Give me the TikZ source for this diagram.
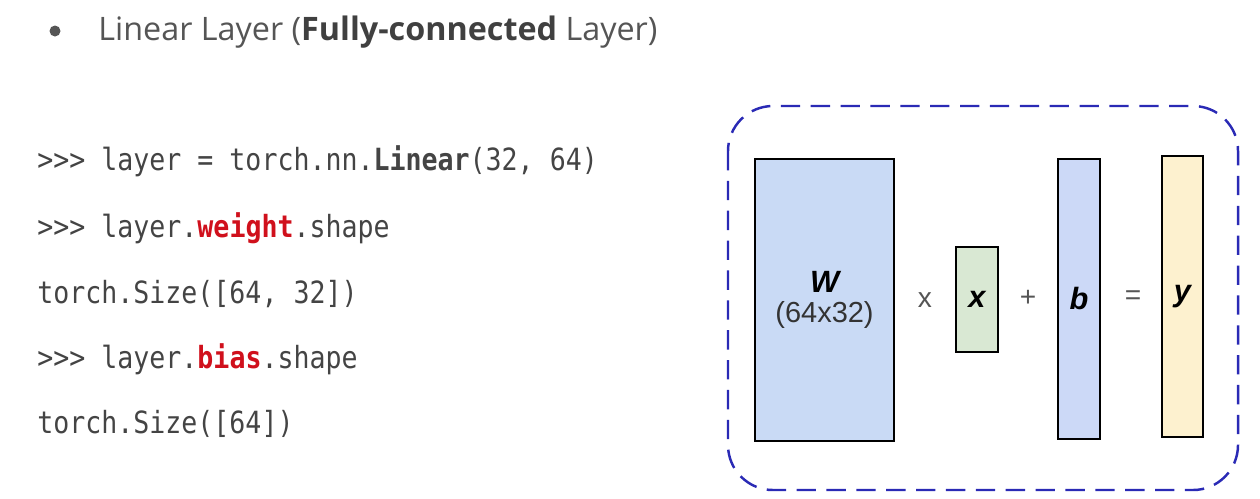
\documentclass[tikz,border=0pt]{standalone}
\usepackage{fontspec}
\usepackage{xcolor}
\usepackage{tikz}
\usetikzlibrary{positioning}
\setmainfont{Open Sans}
\setmonofont[FakeStretch=0.87]{DejaVu Sans Mono}
\newfontfamily\figfont{Liberation Sans}
\newcommand{\tensorname}{\figfont\bfseries\itshape\fontsize{17.5}{19}\selectfont}
\definecolor{slidegray}{HTML}{555555}
\definecolor{codegray}{HTML}{444444}
\definecolor{codered}{HTML}{D0101C}
\definecolor{wblue}{HTML}{C9DAF5}
\definecolor{xgreen}{HTML}{D9E8D3}
\definecolor{bblue}{HTML}{CCD9F7}
\definecolor{yyellow}{HTML}{FDF1CF}
\definecolor{boxblue}{HTML}{2A2AB5}
\tikzset{
    codeline/.style={anchor=base west, inner sep=0pt, text=codegray, font=\ttfamily\fontsize{17.4}{20}\selectfont},
    tensor/.style={draw=black, line width=1.1pt, fill=#1, inner sep=0pt},
    oper/.style={text=slidegray, font=\figfont\fontsize{16}{18}\selectfont},
    tlabel/.style={font=\tensorname}
}
\begin{document}
\begin{tikzpicture}[x=0.02cm, y=-0.02cm]
\useasboundingbox (0,0) rectangle (1260,498);

% bullet heading
\fill[slidegray] (55,31) circle (5.5);
\node[anchor=base west, inner sep=0pt, text=slidegray, font=\fontsize{18.4}{22}\selectfont] (title) at (98,40)
    {Linear Layer (\textbf{\color{black!75}Fully-connected} Layer)};

% code
\node[codeline] (c1) at (37,170) {>{}>{}> layer = torch.nn.\textbf{Linear}(32, 64)};
\node[codeline] (c2) at (37,237) {>{}>{}> layer.\textcolor{codered}{\textbf{weight}}.shape};
\node[codeline] (c3) at (37,303) {torch.Size([64, 32])};
\node[codeline] (c4) at (37,368) {>{}>{}> layer.\textcolor{codered}{\textbf{bias}}.shape};
\node[codeline] (c5) at (37,433) {torch.Size([64])};

% y = Wx + b
\draw[boxblue, line width=1.4pt, dash pattern=on 11 off 6, rounded corners=0.9cm] (728,106) rectangle (1238,490);

\node[tensor=wblue, minimum width=2.78cm, minimum height=5.64cm, align=center] (W) at (824.5,300)
    {{\tensorname W}\\[5pt]{\figfont\fontsize{16.5}{18}\selectfont\color{black!80}(64x32)}};
\node[tensor=xgreen, minimum width=0.84cm, minimum height=2.1cm, tlabel] (x) at (977,299.5) {x};
\node[tensor=bblue, minimum width=0.84cm, minimum height=5.6cm, tlabel] (b) at (1079,299) {b};
\node[tensor=yyellow, minimum width=0.82cm, minimum height=5.62cm, tlabel] (y) at (1182.5,296.5) {y};

\node[oper] (times) at (925,300) {x};
\node[oper] (plus) at (1028,298) {+};
\node[oper] (equals) at (1133,298) {=};
\end{tikzpicture}
\end{document}
